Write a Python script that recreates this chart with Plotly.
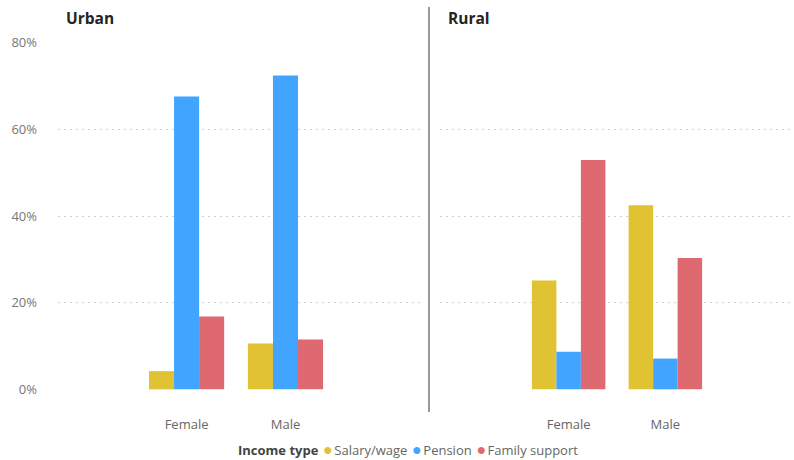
import plotly.graph_objects as go

# data
genders = ["Female", "Male"]
income_types = ["Salary/wage", "Pension", "Family support"]
colours = ["#E1C233", "#41A5FF", "#DF6971"]

urban_salary = [0.042, 0.106]
urban_pension = [0.676, 0.724]
urban_family = [0.168, 0.115]

rural_salary = [0.251, 0.425]
rural_pension = [0.087, 0.071]
rural_family = [0.529, 0.303]

urban = [urban_salary, urban_pension, urban_family]
rural = [rural_salary, rural_pension, rural_family]

W, H = 794, 460
font_main = "Segoe UI, Open Sans, Noto Sans, sans-serif"
plot_top, plot_bot = 42, 390
ph = plot_bot - plot_top

fig = go.Figure()

for i, name in enumerate(income_types):
    fig.add_trace(go.Bar(
        x=genders, y=urban[i], name=name, marker=dict(color=colours[i], line=dict(width=0)),
        showlegend=False, xaxis="x", yaxis="y"))
    fig.add_trace(go.Bar(
        x=genders, y=rural[i], name=name, marker=dict(color=colours[i], line=dict(width=0)),
        showlegend=False, xaxis="x2", yaxis="y2"))

grid = dict(showgrid=True, gridcolor="#D0D0D0", griddash="2px,4px", gridwidth=1,
            zeroline=False, range=[-0.0015, 0.8015], tickvals=[0, 0.2, 0.4, 0.6, 0.8],
            tickformat=".0%", domain=[0, 1], fixedrange=True)

# legend drawn as text line: title + coloured dots
legend_text = "<b style='color:#444444'>Income type</b>"
for name, c in zip(income_types, colours):
    legend_text += (f"<span style='font-size:9px'>&nbsp;&nbsp;</span>"
                    f"<span style='color:{c};font-size:16px'>●</span>"
                    f"<span style='font-size:6px'>&nbsp;</span>{name}")

fig.update_layout(
    width=W, height=H,
    margin=dict(l=0, r=0, t=plot_top, b=H - plot_bot, autoexpand=False),
    plot_bgcolor="white", paper_bgcolor="white",
    font=dict(family=font_main, size=13, color="#666666"),
    barmode="group", bargap=0.24, bargroupgap=0, showlegend=False,
    xaxis=dict(domain=[58 / W, 420 / W], range=[-1.30, 2.36], showgrid=False,
               showline=False, ticks="", ticklabelstandoff=25, fixedrange=True,
               tickfont=dict(size=13, color="#666666")),
    xaxis2=dict(domain=[440 / W, 1.0], range=[-1.33, 2.33], showgrid=False,
                showline=False, ticks="", ticklabelstandoff=25, fixedrange=True,
                tickfont=dict(size=13, color="#666666")),
    yaxis=dict(**grid, anchor="x", ticks="", ticklabelstandoff=20,
               tickfont=dict(size=13, color="#777777")),
    yaxis2=dict(**grid, anchor="x2", showticklabels=False),
    annotations=[
        dict(text="<b>Urban</b>", x=64 / W, y=(plot_bot - 18) / ph, xref="paper", yref="paper",
             xanchor="left", yanchor="middle", showarrow=False,
             font=dict(size=15.5, color="#252423", family=font_main)),
        dict(text="<b>Rural</b>", x=446 / W, y=(plot_bot - 18) / ph, xref="paper", yref="paper",
             xanchor="left", yanchor="middle", showarrow=False,
             font=dict(size=15.5, color="#252423", family=font_main)),
        dict(text=legend_text, x=236 / W, y=(plot_bot - 449) / ph, xref="paper", yref="paper",
             xanchor="left", yanchor="middle", showarrow=False,
             font=dict(size=13, color="#666666", family=font_main)),
    ],
    shapes=[
        dict(type="line", xref="paper", yref="paper", x0=429 / W, x1=429 / W,
             y0=(plot_bot - 412) / ph, y1=(plot_bot - 7) / ph,
             line=dict(color="#333333", width=1)),
    ],
)

# drop the page's default body margin so the figure fills the window
fig.write_html("out.html", config={"displayModeBar": False},
               post_script="document.body.style.margin='0';")
